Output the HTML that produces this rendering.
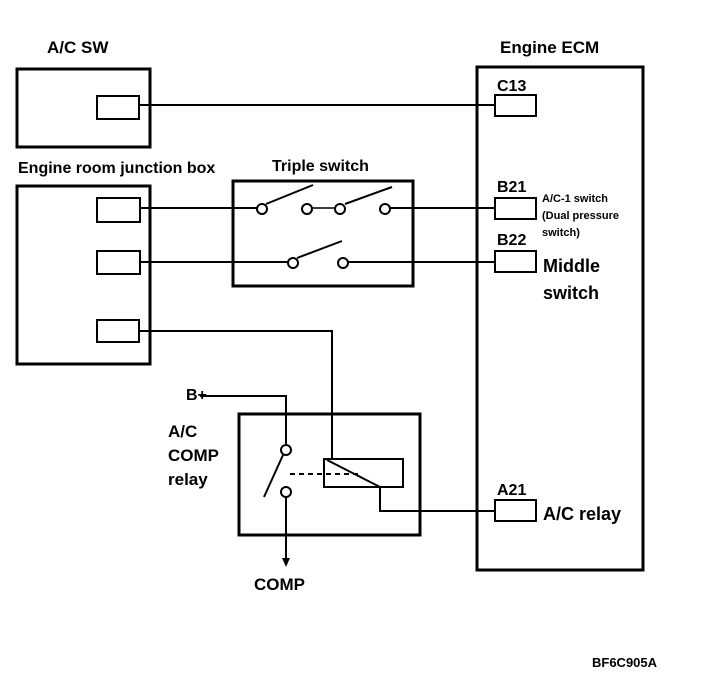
<!DOCTYPE html>
<html><head><style>
body{margin:0;background:#fff;}
svg{display:block;}
text{font-family:"Liberation Sans",sans-serif;font-weight:bold;fill:#000;}
</style></head><body>
<svg width="704" height="698" viewBox="0 0 704 698" xmlns="http://www.w3.org/2000/svg">
<g fill="none" stroke="#000">
<rect x="17" y="69" width="133" height="78" stroke-width="3"/>
<rect x="97" y="96" width="42" height="23" stroke-width="2"/>
<line x1="139" y1="105" x2="495" y2="105" stroke-width="2"/>
<rect x="17" y="186" width="133" height="178" stroke-width="3"/>
<rect x="97" y="198" width="43" height="24" stroke-width="2"/>
<rect x="97" y="251" width="43" height="23" stroke-width="2"/>
<rect x="97" y="320" width="42" height="22" stroke-width="2"/>
<rect x="233" y="181" width="180" height="105" stroke-width="3"/>
<line x1="140" y1="208" x2="257" y2="208" stroke-width="2"/>
<line x1="312" y1="208" x2="335" y2="208" stroke-width="1.5"/>
<line x1="390" y1="208" x2="495" y2="208" stroke-width="2"/>
<line x1="266" y1="204" x2="313" y2="185" stroke-width="2"/>
<line x1="345" y1="204" x2="392" y2="187" stroke-width="2"/>
<circle cx="262" cy="209" r="5" stroke-width="2" fill="#fff"/>
<circle cx="307" cy="209" r="5" stroke-width="2" fill="#fff"/>
<circle cx="340" cy="209" r="5" stroke-width="2" fill="#fff"/>
<circle cx="385" cy="209" r="5" stroke-width="2" fill="#fff"/>
<line x1="140" y1="262" x2="288" y2="262" stroke-width="2"/>
<line x1="348" y1="262" x2="495" y2="262" stroke-width="2"/>
<line x1="297" y1="258" x2="342" y2="241" stroke-width="2"/>
<circle cx="293" cy="263" r="5" stroke-width="2" fill="#fff"/>
<circle cx="343" cy="263" r="5" stroke-width="2" fill="#fff"/>
<polyline points="139,331 332,331 332,459" stroke-width="2"/>
<rect x="477" y="67" width="166" height="503" stroke-width="3"/>
<rect x="495" y="95" width="41" height="21" stroke-width="2"/>
<rect x="495" y="198" width="41" height="21" stroke-width="2"/>
<rect x="495" y="251" width="41" height="21" stroke-width="2"/>
<rect x="495" y="500" width="41" height="21" stroke-width="2"/>
<rect x="239" y="414" width="181" height="121" stroke-width="3"/>
<rect x="324" y="459" width="79" height="28" stroke-width="2"/>
<line x1="327" y1="460" x2="380" y2="487" stroke-width="2"/>
<polyline points="380,487 380,511 495,511" stroke-width="2"/>
<polyline points="200,396 286,396 286,444" stroke-width="2"/>
<circle cx="286" cy="450" r="5" stroke-width="2" fill="#fff"/>
<circle cx="286" cy="492" r="5" stroke-width="2" fill="#fff"/>
<line x1="283" y1="455" x2="264" y2="497" stroke-width="2"/>
<line x1="290" y1="474" x2="358" y2="474" stroke-width="2" stroke-dasharray="5,4"/>
<line x1="286" y1="497" x2="286" y2="560" stroke-width="2"/>
</g>
<polygon points="282,558 290,558 286,567" fill="#000"/>
<text x="47" y="53" font-size="17">A/C SW</text>
<text x="500" y="53" font-size="17">Engine ECM</text>
<text x="18" y="173" font-size="16">Engine room junction box</text>
<text x="272" y="171" font-size="16">Triple switch</text>
<text x="497" y="91" font-size="16">C13</text>
<text x="497" y="192" font-size="16">B21</text>
<text x="497" y="245" font-size="16">B22</text>
<text x="497" y="495" font-size="16">A21</text>
<text x="542" y="202" font-size="11">A/C-1 switch</text>
<text x="542" y="219" font-size="11">(Dual pressure</text>
<text x="542" y="236" font-size="11">switch)</text>
<text x="543" y="272" font-size="18">Middle</text>
<text x="543" y="299" font-size="18">switch</text>
<text x="543" y="520" font-size="18">A/C relay</text>
<text x="186" y="400" font-size="16">B+</text>
<text x="168" y="437" font-size="17">A/C</text>
<text x="168" y="461" font-size="17">COMP</text>
<text x="168" y="485" font-size="17">relay</text>
<text x="254" y="590" font-size="17">COMP</text>
<text x="592" y="667" font-size="13">BF6C905A</text>
</svg>
</body></html>
